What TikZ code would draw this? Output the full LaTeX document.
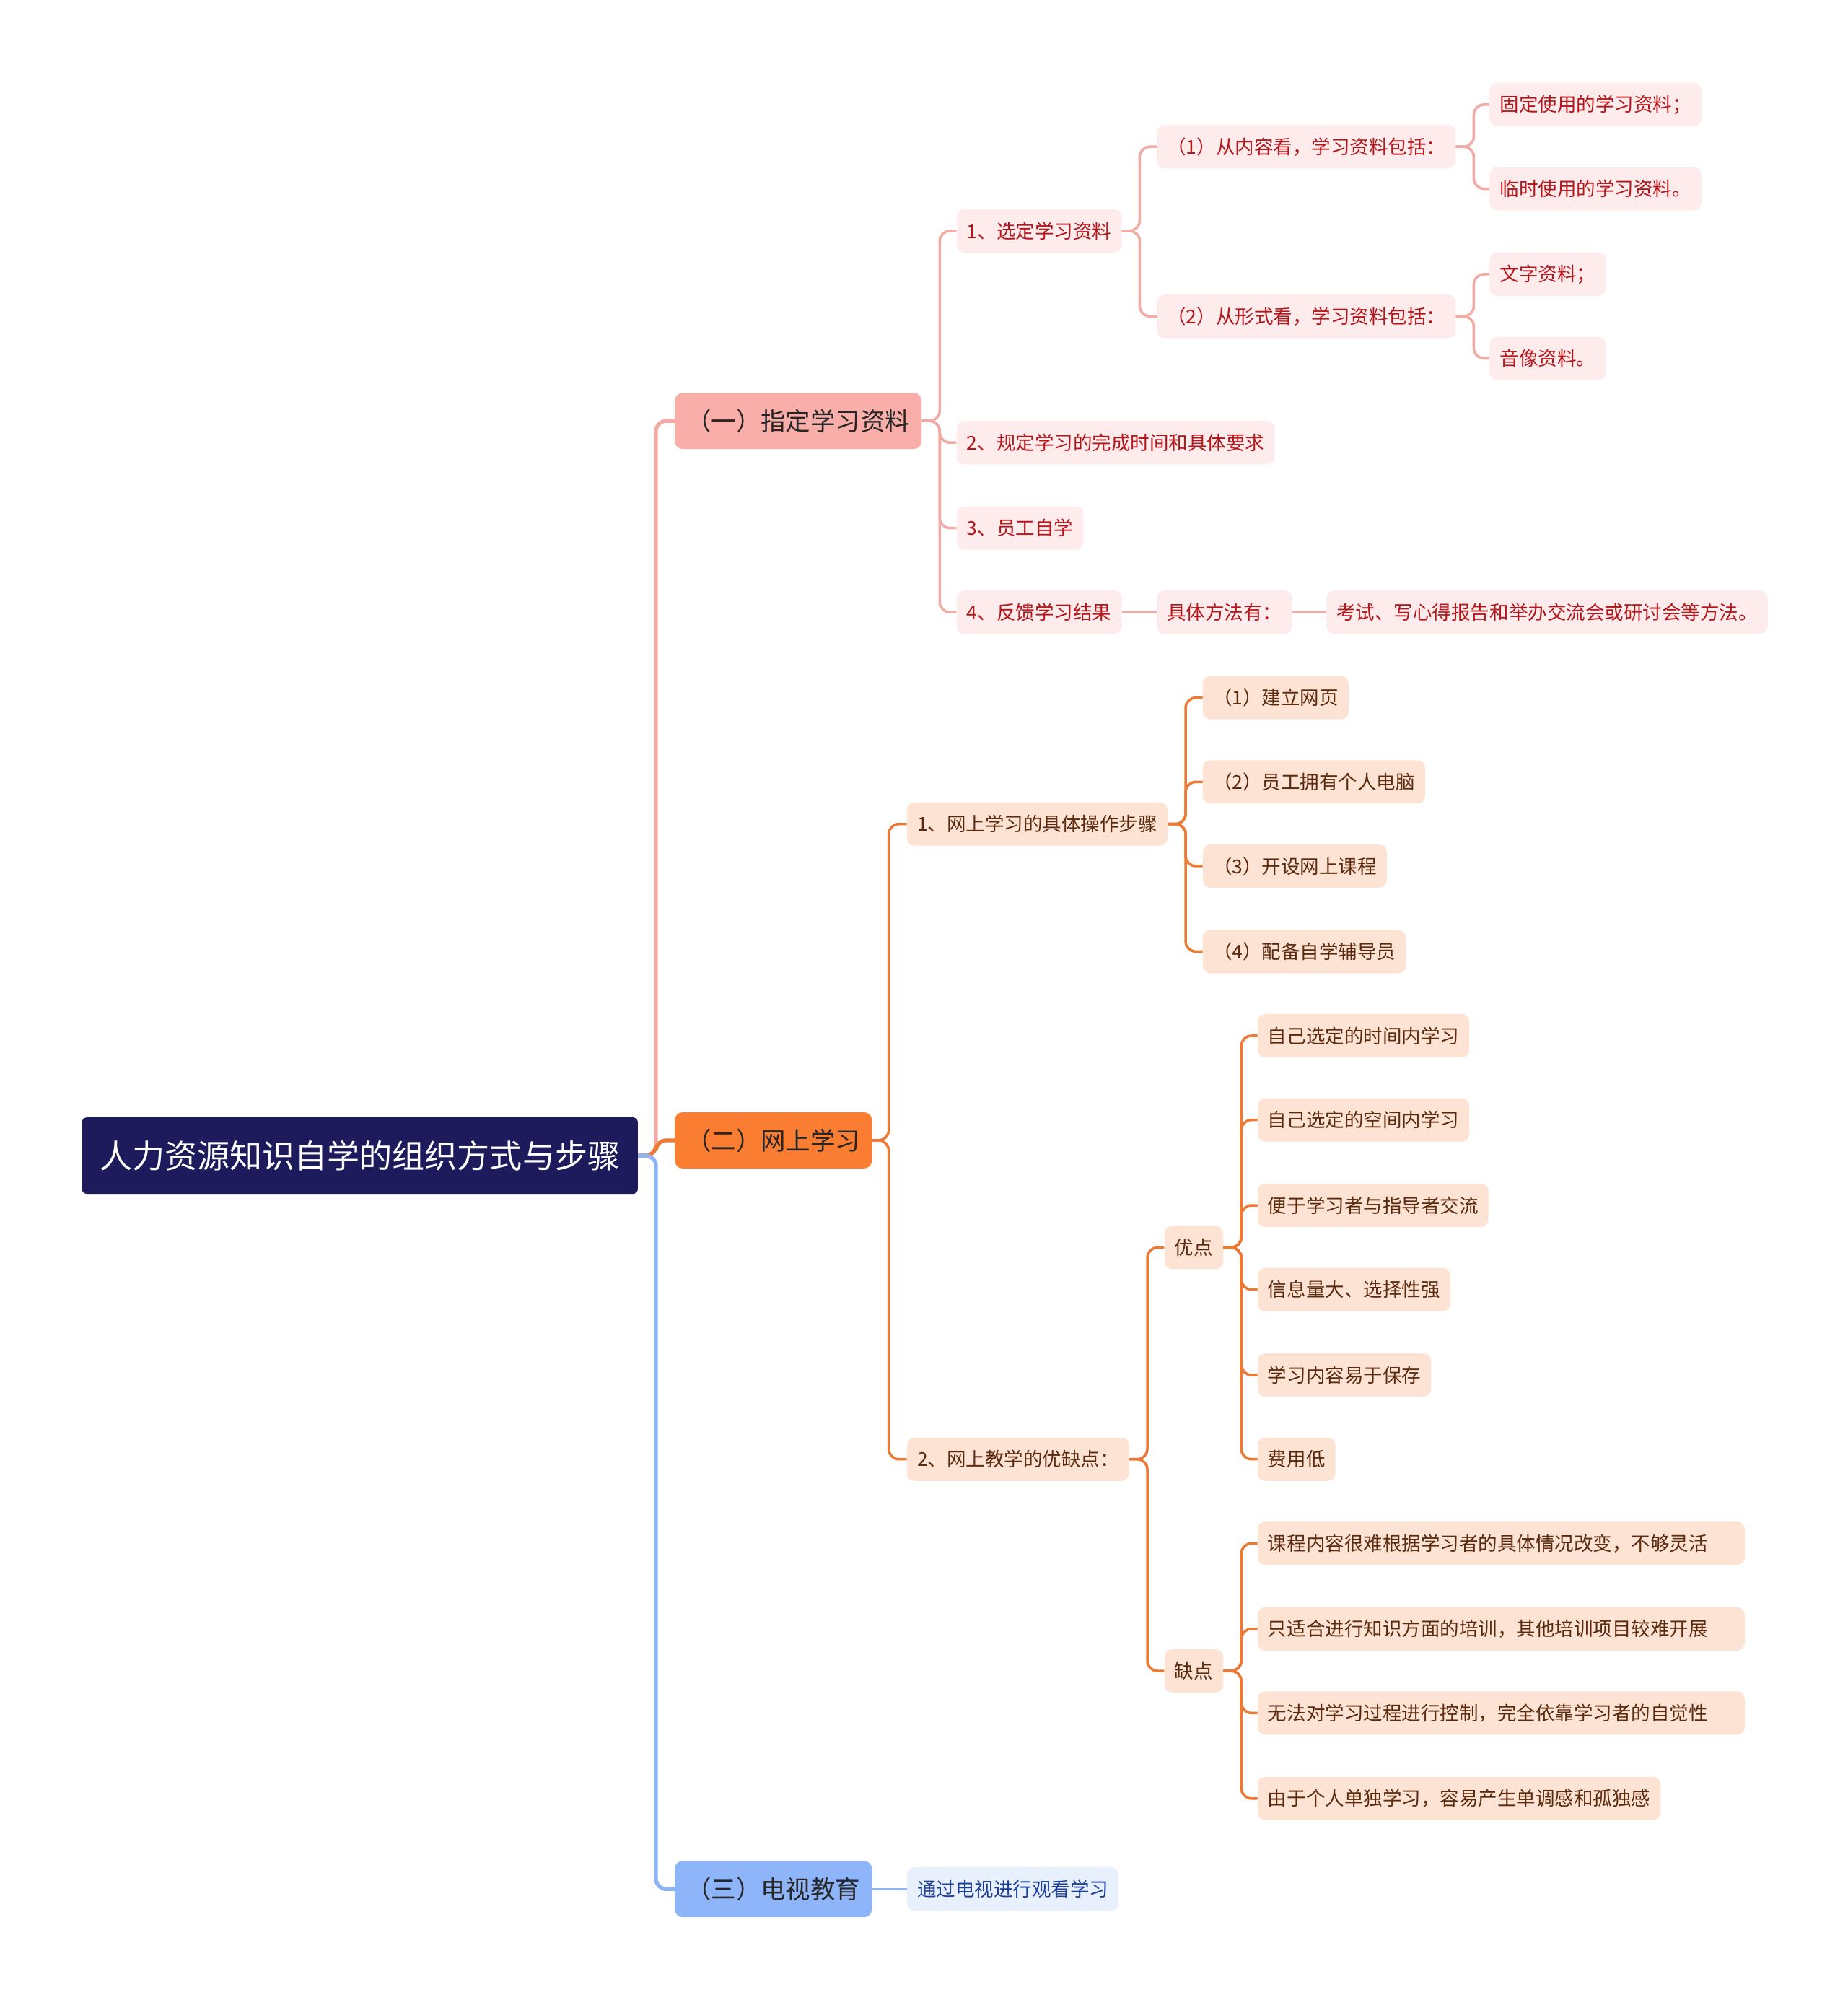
\documentclass[tikz,border=0pt]{standalone}
\usepackage{fontspec}
\setmainfont{Noto Sans CJK SC}
\usetikzlibrary{positioning}
\definecolor{rootnavy}{RGB}{29,27,92}
\definecolor{pinkmain}{RGB}{249,174,170}
\definecolor{pinkline}{RGB}{243,170,165}
\definecolor{pinkfill}{RGB}{253,236,235}
\definecolor{pinktext}{RGB}{180,22,28}
\definecolor{orangemain}{RGB}{250,125,49}
\definecolor{orangeline}{RGB}{236,122,52}
\definecolor{orangefill}{RGB}{253,227,211}
\definecolor{orangetext}{RGB}{92,42,14}
\definecolor{bluemain}{RGB}{142,180,249}
\definecolor{blueline}{RGB}{142,180,245}
\definecolor{bluefill}{RGB}{232,240,253}
\definecolor{bluetext}{RGB}{27,62,154}
\newcommand{\fsroot}{\fontsize{25.5}{30}\selectfont}
\newcommand{\fsbranch}{\fontsize{19.5}{23}\selectfont}
\newcommand{\fsleaf}{\fontsize{15}{18}\selectfont}

\begin{document}
\begin{tikzpicture}[x=1pt, y=-1pt,
  rootbox/.style={fill=rootnavy, text=white, rounded corners=4, minimum height=60, inner xsep=14, inner ysep=0, anchor=west, font=\fsroot},
  mainbox/.style={rounded corners=6, minimum height=44, inner xsep=9, inner ysep=0, anchor=west, font=\fsbranch, text=black!85},
  subbox/.style={rounded corners=6, minimum height=34, inner xsep=8, inner ysep=0, anchor=west, font=\fsleaf},
  widebox/.style={text width=366, align=left},
  pinkmainbox/.style={mainbox, fill=pinkmain},
  orangemainbox/.style={mainbox, fill=orangemain},
  bluemainbox/.style={mainbox, fill=bluemain},
  pinkbox/.style={subbox, fill=pinkfill, text=pinktext},
  orangebox/.style={subbox, fill=orangefill, text=orangetext},
  bluebox/.style={subbox, fill=bluefill, text=bluetext},
  pinkedge/.style={draw=pinkline, line width=2, rounded corners=8},
  orangeedge/.style={draw=orangeline, line width=2, rounded corners=8},
  blueedge/.style={draw=blueline, line width=2, rounded corners=8},
  thickedge/.style={line width=3}]
\fill[white] (0,0) rectangle (1449,1568);
\useasboundingbox (0,0) rectangle (1449,1568);

% root and main branches
\node[rootbox] (root) at (64,906) {人力资源知识自学的组织方式与步骤};
\node[pinkmainbox] (b1) at (529,330) {（一）指定学习资料};
\node[orangemainbox] (b2) at (529,894) {（二）网上学习};
\node[bluemainbox] (b3) at (529,1481) {（三）电视教育};

% branch one
\node[pinkbox] (p1) at (750,181) {1、选定学习资料};
\node[pinkbox] (p11) at (907,115) {（1）从内容看，学习资料包括：};
\node[pinkbox] (p111) at (1168,82) {固定使用的学习资料；};
\node[pinkbox] (p112) at (1168,148) {临时使用的学习资料。};
\node[pinkbox] (p12) at (907,248) {（2）从形式看，学习资料包括：};
\node[pinkbox] (p121) at (1168,215) {文字资料；};
\node[pinkbox] (p122) at (1168,281) {音像资料。};
\node[pinkbox] (p2) at (750,347) {2、规定学习的完成时间和具体要求};
\node[pinkbox] (p3) at (750,414) {3、员工自学};
\node[pinkbox] (p4) at (750,480) {4、反馈学习结果};
\node[pinkbox] (p41) at (907,480) {具体方法有：};
\node[pinkbox] (p411) at (1040,480) {考试、写心得报告和举办交流会或研讨会等方法。};

% branch two
\node[orangebox] (o1) at (711,646) {1、网上学习的具体操作步骤};
\node[orangebox] (o11) at (943,547) {（1）建立网页};
\node[orangebox] (o12) at (943,613) {（2）员工拥有个人电脑};
\node[orangebox] (o13) at (943,679) {（3）开设网上课程};
\node[orangebox] (o14) at (943,746) {（4）配备自学辅导员};
\node[orangebox] (o2) at (711,1144) {2、网上教学的优缺点：};
\node[orangebox] (good) at (913,978) {优点};
\node[orangebox] (g1) at (986,812) {自己选定的时间内学习};
\node[orangebox] (g2) at (986,878) {自己选定的空间内学习};
\node[orangebox] (g3) at (986,945) {便于学习者与指导者交流};
\node[orangebox] (g4) at (986,1011) {信息量大、选择性强};
\node[orangebox] (g5) at (986,1078) {学习内容易于保存};
\node[orangebox] (g6) at (986,1144) {费用低};
\node[orangebox] (bad) at (913,1310) {缺点};
\node[orangebox, widebox] (d1) at (986,1210) {课程内容很难根据学习者的具体情况改变，不够灵活};
\node[orangebox, widebox] (d2) at (986,1277) {只适合进行知识方面的培训，其他培训项目较难开展};
\node[orangebox, widebox] (d3) at (986,1343) {无法对学习过程进行控制，完全依靠学习者的自觉性};
\node[orangebox] (d4) at (986,1410) {由于个人单独学习，容易产生单调感和孤独感};

% branch three
\node[bluebox] (t1) at (711,1481) {通过电视进行观看学习};

% connectors
\draw[pinkedge, thickedge] (root.east) -- ++(14,0) |- (b1.west);
\draw[orangeedge, thickedge] (root.east) -- ++(14,0) |- (b2.west);
\draw[blueedge, thickedge] (root.east) -- ++(14,0) |- (b3.west);

\foreach \c in {p1,p2,p3,p4}
  \draw[pinkedge] (b1.east) -- ++(14,0) |- (\c.west);
\foreach \c in {p11,p12}
  \draw[pinkedge] (p1.east) -- ++(14,0) |- (\c.west);
\foreach \c in {p111,p112}
  \draw[pinkedge] (p11.east) -- ++(14,0) |- (\c.west);
\foreach \c in {p121,p122}
  \draw[pinkedge] (p12.east) -- ++(14,0) |- (\c.west);
\draw[pinkedge] (p4) -- (p41);
\draw[pinkedge] (p41) -- (p411);

\foreach \c in {o1,o2}
  \draw[orangeedge] (b2.east) -- ++(13,0) |- (\c.west);
\foreach \c in {o11,o12,o13,o14}
  \draw[orangeedge] (o1.east) -- ++(14,0) |- (\c.west);
\foreach \c in {good,bad}
  \draw[orangeedge] (o2.east) -- ++(14,0) |- (\c.west);
\foreach \c in {g1,g2,g3,g4,g5,g6}
  \draw[orangeedge] (good.east) -- ++(14,0) |- (\c.west);
\foreach \c in {d1,d2,d3,d4}
  \draw[orangeedge] (bad.east) -- ++(14,0) |- (\c.west);

\draw[blueedge] (b3) -- (t1);
\end{tikzpicture}
\end{document}
